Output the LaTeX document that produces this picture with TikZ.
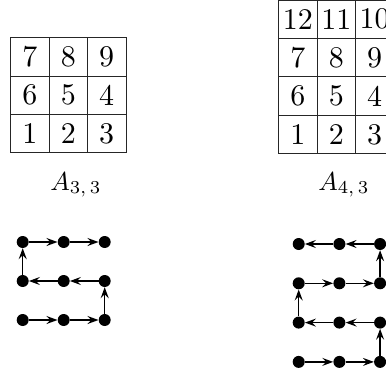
\documentclass[tikz,border=0pt]{standalone}
\usetikzlibrary{arrows.meta}
\begin{document}
\begin{tikzpicture}[x=1pt,y=-1pt,
  cell/.style={draw=black!85, line width=0.8pt, minimum size=38.4pt, inner sep=0pt},
  dot/.style={circle, fill=black, inner sep=0pt, minimum size=12pt},
  arr/.style={line width=1.4pt, -{Stealth[length=11pt,width=8pt,inset=4pt]}},
  lab/.style={anchor=base, inner sep=0pt}]
\clip (0,0) rectangle (386,370);
% left grid A_{3,3}
\foreach \r/\c/\t in {0/0/7,0/1/8,0/2/9,1/0/6,1/1/5,1/2/4,2/0/1,2/1/2,2/2/3}
  \node[cell] (L\r\c) at ({29.9+38.4*\c},{56.7+38.4*\r}) {\scalebox{3}{\t}};
% right grid A_{4,3}
\foreach \r/\c/\t in {0/0/12,0/1/11,0/2/10,1/0/7,1/1/8,1/2/9,2/0/6,2/1/5,2/2/4,3/0/1,3/1/2,3/2/3}
  \node[cell] (R\r\c) at ({297.9+38.4*\c},{19.2+38.4*\r}) {\scalebox{3}{\t}};
% labels
\node[lab] (la) at (76,190) {\scalebox{2.6}{$A_{3,\,3}$}};
\node[lab] (ra) at (344,190) {\scalebox{2.6}{$A_{4,\,3}$}};
% left dots
\foreach \r in {0,1,2}
  \foreach \c in {0,1,2}
    \node[dot] (a\r\c) at ({22.7+41*\c},{242+39*\r}) {};
% right dots
\foreach \r in {0,1,2,3}
  \foreach \c in {0,1,2}
    \node[dot] (b\r\c) at ({298.7+40.7*\c},{244+39.3*\r}) {};
% left path
\draw[arr] (a20) -- (a21);
\draw[arr] (a21) -- (a22);
\draw[arr] (a22) -- (a12);
\draw[arr] (a12) -- (a11);
\draw[arr] (a11) -- (a10);
\draw[arr] (a10) -- (a00);
\draw[arr] (a00) -- (a01);
\draw[arr] (a01) -- (a02);
% right path
\draw[arr] (b30) -- (b31);
\draw[arr] (b31) -- (b32);
\draw[arr] (b32) -- (b22);
\draw[arr] (b22) -- (b21);
\draw[arr] (b21) -- (b20);
\draw[arr] (b20) -- (b10);
\draw[arr] (b10) -- (b11);
\draw[arr] (b11) -- (b12);
\draw[arr] (b12) -- (b02);
\draw[arr] (b02) -- (b01);
\draw[arr] (b01) -- (b00);
\end{tikzpicture}
\end{document}
